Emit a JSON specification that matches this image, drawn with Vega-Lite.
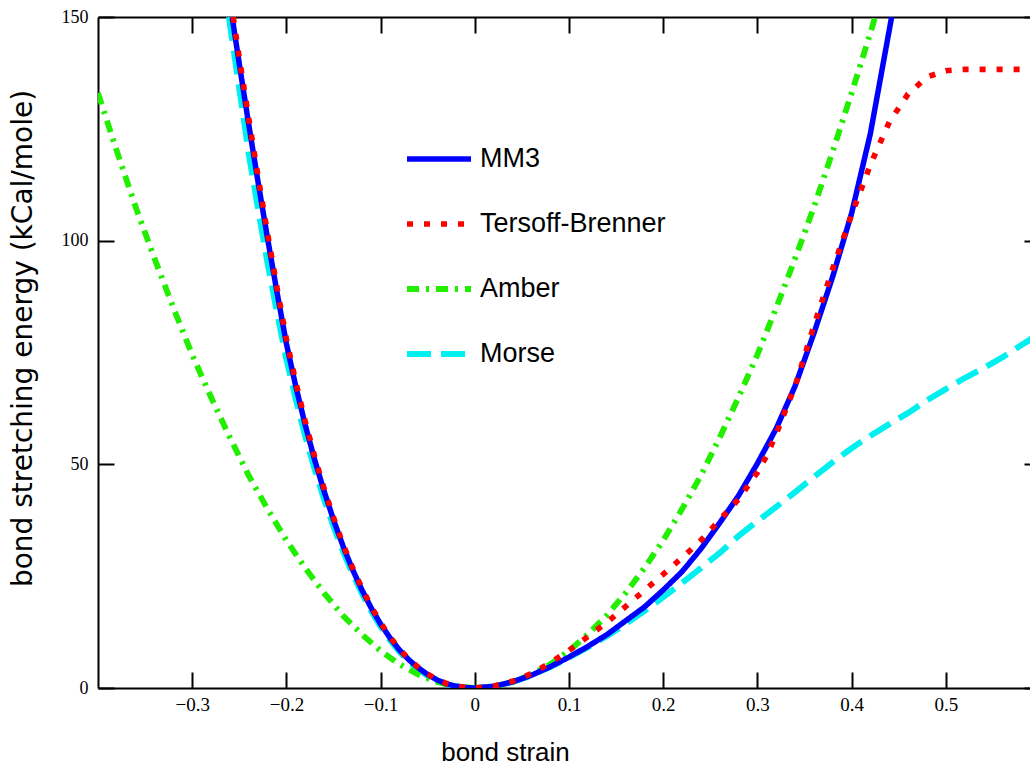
{
  "$schema": "https://vega.github.io/schema/vega-lite/v6.json",
  "autosize": {"type": "none"},
  "padding": {"left": 98, "top": 17, "right": 0, "bottom": 79},
  "width": 942,
  "height": 671,
  "background": "white",
  "config": {
    "view": {"stroke": null},
    "axis": {"domainColor": "black", "domainWidth": 2, "tickColor": "black", "tickWidth": 2, "grid": false, "labelColor": "black", "titleColor": "black"}
  },
  "datasets": {
    "curves": [
      {"model": "Morse", "strain": -0.2611, "energy": 150},
      {"model": "Morse", "strain": -0.25, "energy": 134},
      {"model": "Morse", "strain": -0.24, "energy": 119.5},
      {"model": "Morse", "strain": -0.23, "energy": 107},
      {"model": "Morse", "strain": -0.22, "energy": 95},
      {"model": "Morse", "strain": -0.21, "energy": 84},
      {"model": "Morse", "strain": -0.2, "energy": 73.5},
      {"model": "Morse", "strain": -0.19, "energy": 64.5},
      {"model": "Morse", "strain": -0.18, "energy": 56.3},
      {"model": "Morse", "strain": -0.17, "energy": 48.9},
      {"model": "Morse", "strain": -0.16, "energy": 42.2},
      {"model": "Morse", "strain": -0.15, "energy": 36.1},
      {"model": "Morse", "strain": -0.14, "energy": 30.6},
      {"model": "Morse", "strain": -0.13, "energy": 25.6},
      {"model": "Morse", "strain": -0.12, "energy": 21.2},
      {"model": "Morse", "strain": -0.11, "energy": 17.2},
      {"model": "Morse", "strain": -0.1, "energy": 13.7},
      {"model": "Morse", "strain": -0.09, "energy": 10.7},
      {"model": "Morse", "strain": -0.08, "energy": 8.1},
      {"model": "Morse", "strain": -0.07, "energy": 5.9},
      {"model": "Morse", "strain": -0.06, "energy": 4.1},
      {"model": "Morse", "strain": -0.05, "energy": 2.7},
      {"model": "Morse", "strain": -0.04, "energy": 1.6},
      {"model": "Morse", "strain": -0.03, "energy": 0.85},
      {"model": "Morse", "strain": -0.02, "energy": 0.37},
      {"model": "Morse", "strain": -0.01, "energy": 0.09},
      {"model": "Morse", "strain": 0, "energy": 0},
      {"model": "Morse", "strain": 0.02, "energy": 0.35},
      {"model": "Morse", "strain": 0.04, "energy": 1.3},
      {"model": "Morse", "strain": 0.06, "energy": 2.8},
      {"model": "Morse", "strain": 0.08, "energy": 4.7},
      {"model": "Morse", "strain": 0.1, "energy": 6.8},
      {"model": "Morse", "strain": 0.12, "energy": 9.1},
      {"model": "Morse", "strain": 0.14, "energy": 11.6},
      {"model": "Morse", "strain": 0.16, "energy": 14.3},
      {"model": "Morse", "strain": 0.18, "energy": 17.2},
      {"model": "Morse", "strain": 0.2, "energy": 20.3},
      {"model": "Morse", "strain": 0.22, "energy": 23.5},
      {"model": "Morse", "strain": 0.24, "energy": 26.8},
      {"model": "Morse", "strain": 0.26, "energy": 30.2},
      {"model": "Morse", "strain": 0.28, "energy": 34},
      {"model": "Morse", "strain": 0.3, "energy": 37.3},
      {"model": "Morse", "strain": 0.32, "energy": 40.5},
      {"model": "Morse", "strain": 0.34, "energy": 43.8},
      {"model": "Morse", "strain": 0.36, "energy": 47.2},
      {"model": "Morse", "strain": 0.38, "energy": 50.5},
      {"model": "Morse", "strain": 0.4, "energy": 53.6},
      {"model": "Morse", "strain": 0.42, "energy": 56.4},
      {"model": "Morse", "strain": 0.44, "energy": 59},
      {"model": "Morse", "strain": 0.46, "energy": 61.5},
      {"model": "Morse", "strain": 0.48, "energy": 64.3},
      {"model": "Morse", "strain": 0.5, "energy": 66.8},
      {"model": "Morse", "strain": 0.52, "energy": 69.3},
      {"model": "Morse", "strain": 0.54, "energy": 71.5},
      {"model": "Morse", "strain": 0.56, "energy": 73.9},
      {"model": "Morse", "strain": 0.58, "energy": 76.6},
      {"model": "Morse", "strain": 0.6, "energy": 79.3},

      {"model": "Amber", "strain": -0.4, "energy": 133},
      {"model": "Amber", "strain": -0.38, "energy": 120},
      {"model": "Amber", "strain": -0.36, "energy": 107.5},
      {"model": "Amber", "strain": -0.34, "energy": 96},
      {"model": "Amber", "strain": -0.32, "energy": 85},
      {"model": "Amber", "strain": -0.3, "energy": 74.5},
      {"model": "Amber", "strain": -0.28, "energy": 65},
      {"model": "Amber", "strain": -0.26, "energy": 56},
      {"model": "Amber", "strain": -0.24, "energy": 47.5},
      {"model": "Amber", "strain": -0.22, "energy": 40},
      {"model": "Amber", "strain": -0.2, "energy": 33},
      {"model": "Amber", "strain": -0.18, "energy": 26.8},
      {"model": "Amber", "strain": -0.16, "energy": 21.2},
      {"model": "Amber", "strain": -0.14, "energy": 16.2},
      {"model": "Amber", "strain": -0.12, "energy": 12},
      {"model": "Amber", "strain": -0.1, "energy": 8.3},
      {"model": "Amber", "strain": -0.08, "energy": 5.3},
      {"model": "Amber", "strain": -0.06, "energy": 3},
      {"model": "Amber", "strain": -0.04, "energy": 1.33},
      {"model": "Amber", "strain": -0.02, "energy": 0.33},
      {"model": "Amber", "strain": 0, "energy": 0},
      {"model": "Amber", "strain": 0.02, "energy": 0.33},
      {"model": "Amber", "strain": 0.04, "energy": 1.33},
      {"model": "Amber", "strain": 0.06, "energy": 3},
      {"model": "Amber", "strain": 0.08, "energy": 5.3},
      {"model": "Amber", "strain": 0.1, "energy": 8.3},
      {"model": "Amber", "strain": 0.12, "energy": 12},
      {"model": "Amber", "strain": 0.14, "energy": 16.2},
      {"model": "Amber", "strain": 0.16, "energy": 21.2},
      {"model": "Amber", "strain": 0.18, "energy": 26.8},
      {"model": "Amber", "strain": 0.2, "energy": 33},
      {"model": "Amber", "strain": 0.22, "energy": 40},
      {"model": "Amber", "strain": 0.24, "energy": 47.5},
      {"model": "Amber", "strain": 0.26, "energy": 56},
      {"model": "Amber", "strain": 0.28, "energy": 65},
      {"model": "Amber", "strain": 0.3, "energy": 74.5},
      {"model": "Amber", "strain": 0.32, "energy": 85},
      {"model": "Amber", "strain": 0.34, "energy": 96},
      {"model": "Amber", "strain": 0.36, "energy": 107.5},
      {"model": "Amber", "strain": 0.38, "energy": 120},
      {"model": "Amber", "strain": 0.4, "energy": 133},
      {"model": "Amber", "strain": 0.42, "energy": 146.5},
      {"model": "Amber", "strain": 0.425, "energy": 150},

      {"model": "MM3", "strain": -0.2576, "energy": 150},
      {"model": "MM3", "strain": -0.25, "energy": 139.5},
      {"model": "MM3", "strain": -0.24, "energy": 126},
      {"model": "MM3", "strain": -0.23, "energy": 113},
      {"model": "MM3", "strain": -0.22, "energy": 100.5},
      {"model": "MM3", "strain": -0.21, "energy": 88.5},
      {"model": "MM3", "strain": -0.2, "energy": 77},
      {"model": "MM3", "strain": -0.19, "energy": 67.4},
      {"model": "MM3", "strain": -0.18, "energy": 58.8},
      {"model": "MM3", "strain": -0.17, "energy": 51},
      {"model": "MM3", "strain": -0.16, "energy": 44},
      {"model": "MM3", "strain": -0.15, "energy": 37.6},
      {"model": "MM3", "strain": -0.14, "energy": 31.8},
      {"model": "MM3", "strain": -0.13, "energy": 26.6},
      {"model": "MM3", "strain": -0.12, "energy": 22},
      {"model": "MM3", "strain": -0.11, "energy": 17.9},
      {"model": "MM3", "strain": -0.1, "energy": 14.3},
      {"model": "MM3", "strain": -0.09, "energy": 11.2},
      {"model": "MM3", "strain": -0.08, "energy": 8.5},
      {"model": "MM3", "strain": -0.07, "energy": 6.3},
      {"model": "MM3", "strain": -0.06, "energy": 4.5},
      {"model": "MM3", "strain": -0.05, "energy": 3},
      {"model": "MM3", "strain": -0.04, "energy": 1.8},
      {"model": "MM3", "strain": -0.03, "energy": 0.95},
      {"model": "MM3", "strain": -0.02, "energy": 0.4},
      {"model": "MM3", "strain": -0.01, "energy": 0.1},
      {"model": "MM3", "strain": 0, "energy": 0},
      {"model": "MM3", "strain": 0.02, "energy": 0.37},
      {"model": "MM3", "strain": 0.04, "energy": 1.36},
      {"model": "MM3", "strain": 0.06, "energy": 2.84},
      {"model": "MM3", "strain": 0.08, "energy": 4.74},
      {"model": "MM3", "strain": 0.1, "energy": 6.9},
      {"model": "MM3", "strain": 0.12, "energy": 9.3},
      {"model": "MM3", "strain": 0.14, "energy": 11.9},
      {"model": "MM3", "strain": 0.16, "energy": 15},
      {"model": "MM3", "strain": 0.18, "energy": 18.1},
      {"model": "MM3", "strain": 0.2, "energy": 21.9},
      {"model": "MM3", "strain": 0.22, "energy": 26},
      {"model": "MM3", "strain": 0.24, "energy": 31.1},
      {"model": "MM3", "strain": 0.26, "energy": 36.9},
      {"model": "MM3", "strain": 0.28, "energy": 43},
      {"model": "MM3", "strain": 0.3, "energy": 50.2},
      {"model": "MM3", "strain": 0.32, "energy": 58},
      {"model": "MM3", "strain": 0.34, "energy": 67.5},
      {"model": "MM3", "strain": 0.36, "energy": 79.3},
      {"model": "MM3", "strain": 0.38, "energy": 92},
      {"model": "MM3", "strain": 0.4, "energy": 106.1},
      {"model": "MM3", "strain": 0.42, "energy": 124},
      {"model": "MM3", "strain": 0.44, "energy": 147.1},
      {"model": "MM3", "strain": 0.4425, "energy": 150},

      {"model": "Tersoff-Brenner", "strain": -0.2565, "energy": 150},
      {"model": "Tersoff-Brenner", "strain": -0.25, "energy": 140.8},
      {"model": "Tersoff-Brenner", "strain": -0.24, "energy": 127.3},
      {"model": "Tersoff-Brenner", "strain": -0.23, "energy": 114.2},
      {"model": "Tersoff-Brenner", "strain": -0.22, "energy": 101.6},
      {"model": "Tersoff-Brenner", "strain": -0.21, "energy": 89.5},
      {"model": "Tersoff-Brenner", "strain": -0.2, "energy": 78},
      {"model": "Tersoff-Brenner", "strain": -0.19, "energy": 68.3},
      {"model": "Tersoff-Brenner", "strain": -0.18, "energy": 59.6},
      {"model": "Tersoff-Brenner", "strain": -0.17, "energy": 51.7},
      {"model": "Tersoff-Brenner", "strain": -0.16, "energy": 44.6},
      {"model": "Tersoff-Brenner", "strain": -0.15, "energy": 38.1},
      {"model": "Tersoff-Brenner", "strain": -0.14, "energy": 32.2},
      {"model": "Tersoff-Brenner", "strain": -0.13, "energy": 27},
      {"model": "Tersoff-Brenner", "strain": -0.12, "energy": 22.4},
      {"model": "Tersoff-Brenner", "strain": -0.11, "energy": 18.2},
      {"model": "Tersoff-Brenner", "strain": -0.1, "energy": 14.6},
      {"model": "Tersoff-Brenner", "strain": -0.09, "energy": 11.4},
      {"model": "Tersoff-Brenner", "strain": -0.08, "energy": 8.7},
      {"model": "Tersoff-Brenner", "strain": -0.07, "energy": 6.4},
      {"model": "Tersoff-Brenner", "strain": -0.06, "energy": 4.6},
      {"model": "Tersoff-Brenner", "strain": -0.05, "energy": 3.1},
      {"model": "Tersoff-Brenner", "strain": -0.04, "energy": 1.9},
      {"model": "Tersoff-Brenner", "strain": -0.03, "energy": 1},
      {"model": "Tersoff-Brenner", "strain": -0.02, "energy": 0.45},
      {"model": "Tersoff-Brenner", "strain": -0.01, "energy": 0.12},
      {"model": "Tersoff-Brenner", "strain": 0, "energy": 0},
      {"model": "Tersoff-Brenner", "strain": 0.02, "energy": 0.4},
      {"model": "Tersoff-Brenner", "strain": 0.04, "energy": 1.5},
      {"model": "Tersoff-Brenner", "strain": 0.06, "energy": 3.2},
      {"model": "Tersoff-Brenner", "strain": 0.08, "energy": 5.6},
      {"model": "Tersoff-Brenner", "strain": 0.1, "energy": 8.4},
      {"model": "Tersoff-Brenner", "strain": 0.12, "energy": 11.5},
      {"model": "Tersoff-Brenner", "strain": 0.14, "energy": 14.6},
      {"model": "Tersoff-Brenner", "strain": 0.16, "energy": 18.2},
      {"model": "Tersoff-Brenner", "strain": 0.18, "energy": 21.8},
      {"model": "Tersoff-Brenner", "strain": 0.2, "energy": 25.4},
      {"model": "Tersoff-Brenner", "strain": 0.22, "energy": 29.1},
      {"model": "Tersoff-Brenner", "strain": 0.24, "energy": 33},
      {"model": "Tersoff-Brenner", "strain": 0.26, "energy": 37.6},
      {"model": "Tersoff-Brenner", "strain": 0.28, "energy": 42.2},
      {"model": "Tersoff-Brenner", "strain": 0.3, "energy": 48.2},
      {"model": "Tersoff-Brenner", "strain": 0.31, "energy": 52},
      {"model": "Tersoff-Brenner", "strain": 0.32, "energy": 56.8},
      {"model": "Tersoff-Brenner", "strain": 0.34, "energy": 67.5},
      {"model": "Tersoff-Brenner", "strain": 0.36, "energy": 81},
      {"model": "Tersoff-Brenner", "strain": 0.38, "energy": 93.8},
      {"model": "Tersoff-Brenner", "strain": 0.4, "energy": 105.8},
      {"model": "Tersoff-Brenner", "strain": 0.42, "energy": 117},
      {"model": "Tersoff-Brenner", "strain": 0.44, "energy": 126.5},
      {"model": "Tersoff-Brenner", "strain": 0.46, "energy": 132.8},
      {"model": "Tersoff-Brenner", "strain": 0.48, "energy": 136.6},
      {"model": "Tersoff-Brenner", "strain": 0.5, "energy": 138},
      {"model": "Tersoff-Brenner", "strain": 0.52, "energy": 138.3},
      {"model": "Tersoff-Brenner", "strain": 0.6, "energy": 138.3}
    ]
  },
  "data": {"name": "curves"},
  "layer": [
    {
      "mark": {"type": "line", "clip": true, "strokeCap": "butt"},
      "encoding": {
        "x": {
          "field": "strain", "type": "quantitative",
          "scale": {"domain": [-0.4, 0.6], "nice": false, "zero": false},
          "axis": {
            "orient": "bottom",
            "values": [-0.3, -0.2, -0.1, 0, 0.1, 0.2, 0.3, 0.4, 0.5],
            "labelExpr": "format(datum.value, '.1~f')",
            "tickSize": -16,
            "labelPadding": 23,
            "labelFont": "Liberation Serif",
            "labelFontSize": 19,
            "title": "bond strain",
            "titleFont": "Liberation Sans",
            "titleFontSize": 26,
            "titleFontWeight": "normal",
            "titleX": 407,
            "titleY": 72,
            "titleAlign": "center",
            "titleBaseline": "alphabetic"
          }
        },
        "y": {
          "field": "energy", "type": "quantitative",
          "scale": {"domain": [0, 150], "nice": false, "zero": false},
          "axis": {
            "orient": "left",
            "values": [0, 50, 100, 150],
            "tickSize": -16,
            "labelPadding": 26,
            "labelFont": "Liberation Serif",
            "labelFontSize": 18,
            "title": "bond stretching energy (kCal/mole)",
            "titleFont": "DejaVu Sans",
            "titleFontSize": 28,
            "titleFontWeight": "normal",
            "titleAngle": -90,
            "titleX": -67,
            "titleY": 321,
            "titleAlign": "center",
            "titleBaseline": "alphabetic"
          }
        },
        "color": {
          "field": "model", "type": "nominal",
          "scale": {"domain": ["MM3", "Tersoff-Brenner", "Amber", "Morse"], "range": ["#0000ff", "#ff0000", "#22ee00", "#00f0f0"]},
          "legend": {
            "title": null,
            "orient": "none",
            "legendX": 306,
            "legendY": 107,
            "padding": 0,
            "symbolType": "stroke",
            "symbolSize": 4096,
            "labelFont": "Liberation Sans",
            "labelFontSize": 27,
            "labelColor": "black",
            "labelLimit": 0,
            "labelOffset": 6,
            "rowPadding": 17
          }
        },
        "strokeDash": {
          "field": "model", "type": "nominal",
          "scale": {"domain": ["MM3", "Tersoff-Brenner", "Amber", "Morse"], "range": [[1, 0], [6, 11], [12, 7, 3, 7], [24, 10]]}
        },
        "strokeWidth": {
          "field": "model", "type": "nominal",
          "scale": {"domain": ["MM3", "Tersoff-Brenner", "Amber", "Morse"], "range": [5.5, 6, 2.7, 7]}
        }
      }
    },
    {
      "mark": {"type": "point", "opacity": 0},
      "encoding": {
        "x": {
          "field": "strain", "type": "quantitative",
          "axis": {"orient": "top", "values": [-0.3, -0.2, -0.1, 0, 0.1, 0.2, 0.3, 0.4, 0.5], "tickSize": -16, "labels": false, "title": null}
        },
        "y": {
          "field": "energy", "type": "quantitative",
          "axis": {"orient": "right", "values": [0, 50, 100, 150], "tickSize": -16, "labels": false, "title": null}
        }
      }
    }
  ],
  "resolve": {"axis": {"x": "independent", "y": "independent"}}
}
